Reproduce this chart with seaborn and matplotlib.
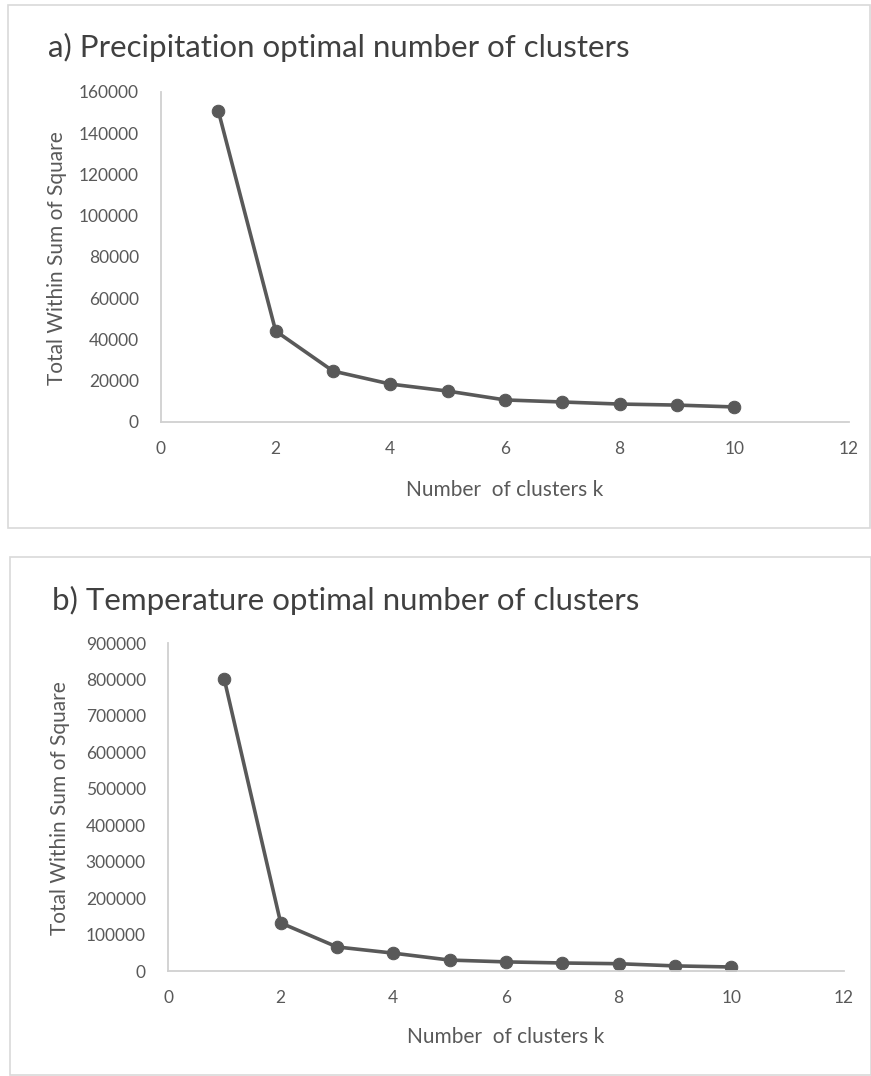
import matplotlib
matplotlib.use("Agg")
import matplotlib.pyplot as plt
import seaborn as sns
import pandas as pd
from matplotlib.patches import Rectangle

sns.set_theme(style="white")
plt.rcParams['font.family'] = ['Lato', 'DejaVu Sans']

k = [1, 2, 3, 4, 5, 6, 7, 8, 9, 10]
precip_wss = [150800, 44100, 24700, 18400, 15000, 10700, 9700, 8700, 8200, 7300]
temp_wss = [800000, 132000, 66000, 49000, 30000, 25000, 22000, 20000, 14000, 11000]

title_a = "a) Precipitation optimal number of clusters"
title_b = "b) Temperature optimal number of clusters"
ylabel = "Total Within Sum of Square"
xlabel = "Number  of clusters k"
xticks = [0, 2, 4, 6, 8, 10, 12]
yticks_a = list(range(0, 160001, 20000))
yticks_b = list(range(0, 900001, 100000))

W, H = 871, 1076
fig = plt.figure(figsize=(W / 100, H / 100), dpi=100)

def fx(px):
    return px / W

def fy(py):
    return 1 - py / H

# panel borders
for (x0, y0, x1, y1) in [(8, 5, 870, 528), (10, 557, 871, 1075)]:
    fig.patches.append(Rectangle((fx(x0), fy(y1)), fx(x1 - x0), (y1 - y0) / H,
                                 transform=fig.transFigure, fill=False,
                                 edgecolor="#d9d9d9", linewidth=1.2))

GRAY = "#595959"

def panel(rect, yvals, yticks, ymax, title, tpos, ylpos, xlpos):
    ax = fig.add_axes(rect)
    df = pd.DataFrame({"k": k, "wss": yvals})
    sns.lineplot(data=df, x="k", y="wss", ax=ax, color=GRAY, linewidth=2.6,
                 marker="o", markersize=9, markeredgecolor=GRAY)
    ax.set_xlim(0, 12)
    ax.set_ylim(0, ymax)
    ax.set_xticks(xticks)
    ax.set_yticks(yticks)
    ax.set_xticklabels([str(t) for t in xticks])
    ax.set_yticklabels([str(t) for t in yticks])
    ax.tick_params(axis="both", length=0, labelsize=12.5, labelcolor=GRAY)
    ax.tick_params(axis="y", pad=16)
    ax.tick_params(axis="x", pad=14)
    for s in ["top", "right"]:
        ax.spines[s].set_visible(False)
    for s in ["left", "bottom"]:
        ax.spines[s].set_color("#d0d0d0")
        ax.spines[s].set_linewidth(1.3)
    ax.set_xlabel("")
    ax.set_ylabel("")
    fig.text(fx(tpos[0]), fy(tpos[1]), title, fontsize=22.5, color="#404040",
             ha="left", va="center")
    fig.text(fx(ylpos[0]), fy(ylpos[1]), ylabel, fontsize=15, color=GRAY,
             rotation=90, ha="center", va="center")
    fig.text(fx(xlpos[0]), fy(xlpos[1]), xlabel, fontsize=15, color=GRAY,
             ha="center", va="center")
    return ax

panel([fx(161), fy(422), fx(849 - 161), (422 - 92) / H], precip_wss, yticks_a, 160000,
      title_a, (48, 47), (57, 258), (505, 490))
panel([fx(168), fy(971), fx(844 - 168), (971 - 643) / H], temp_wss, yticks_b, 900000,
      title_b, (52, 600), (60, 808), (506, 1037))

fig.savefig("out.png", dpi=100, facecolor="white")
